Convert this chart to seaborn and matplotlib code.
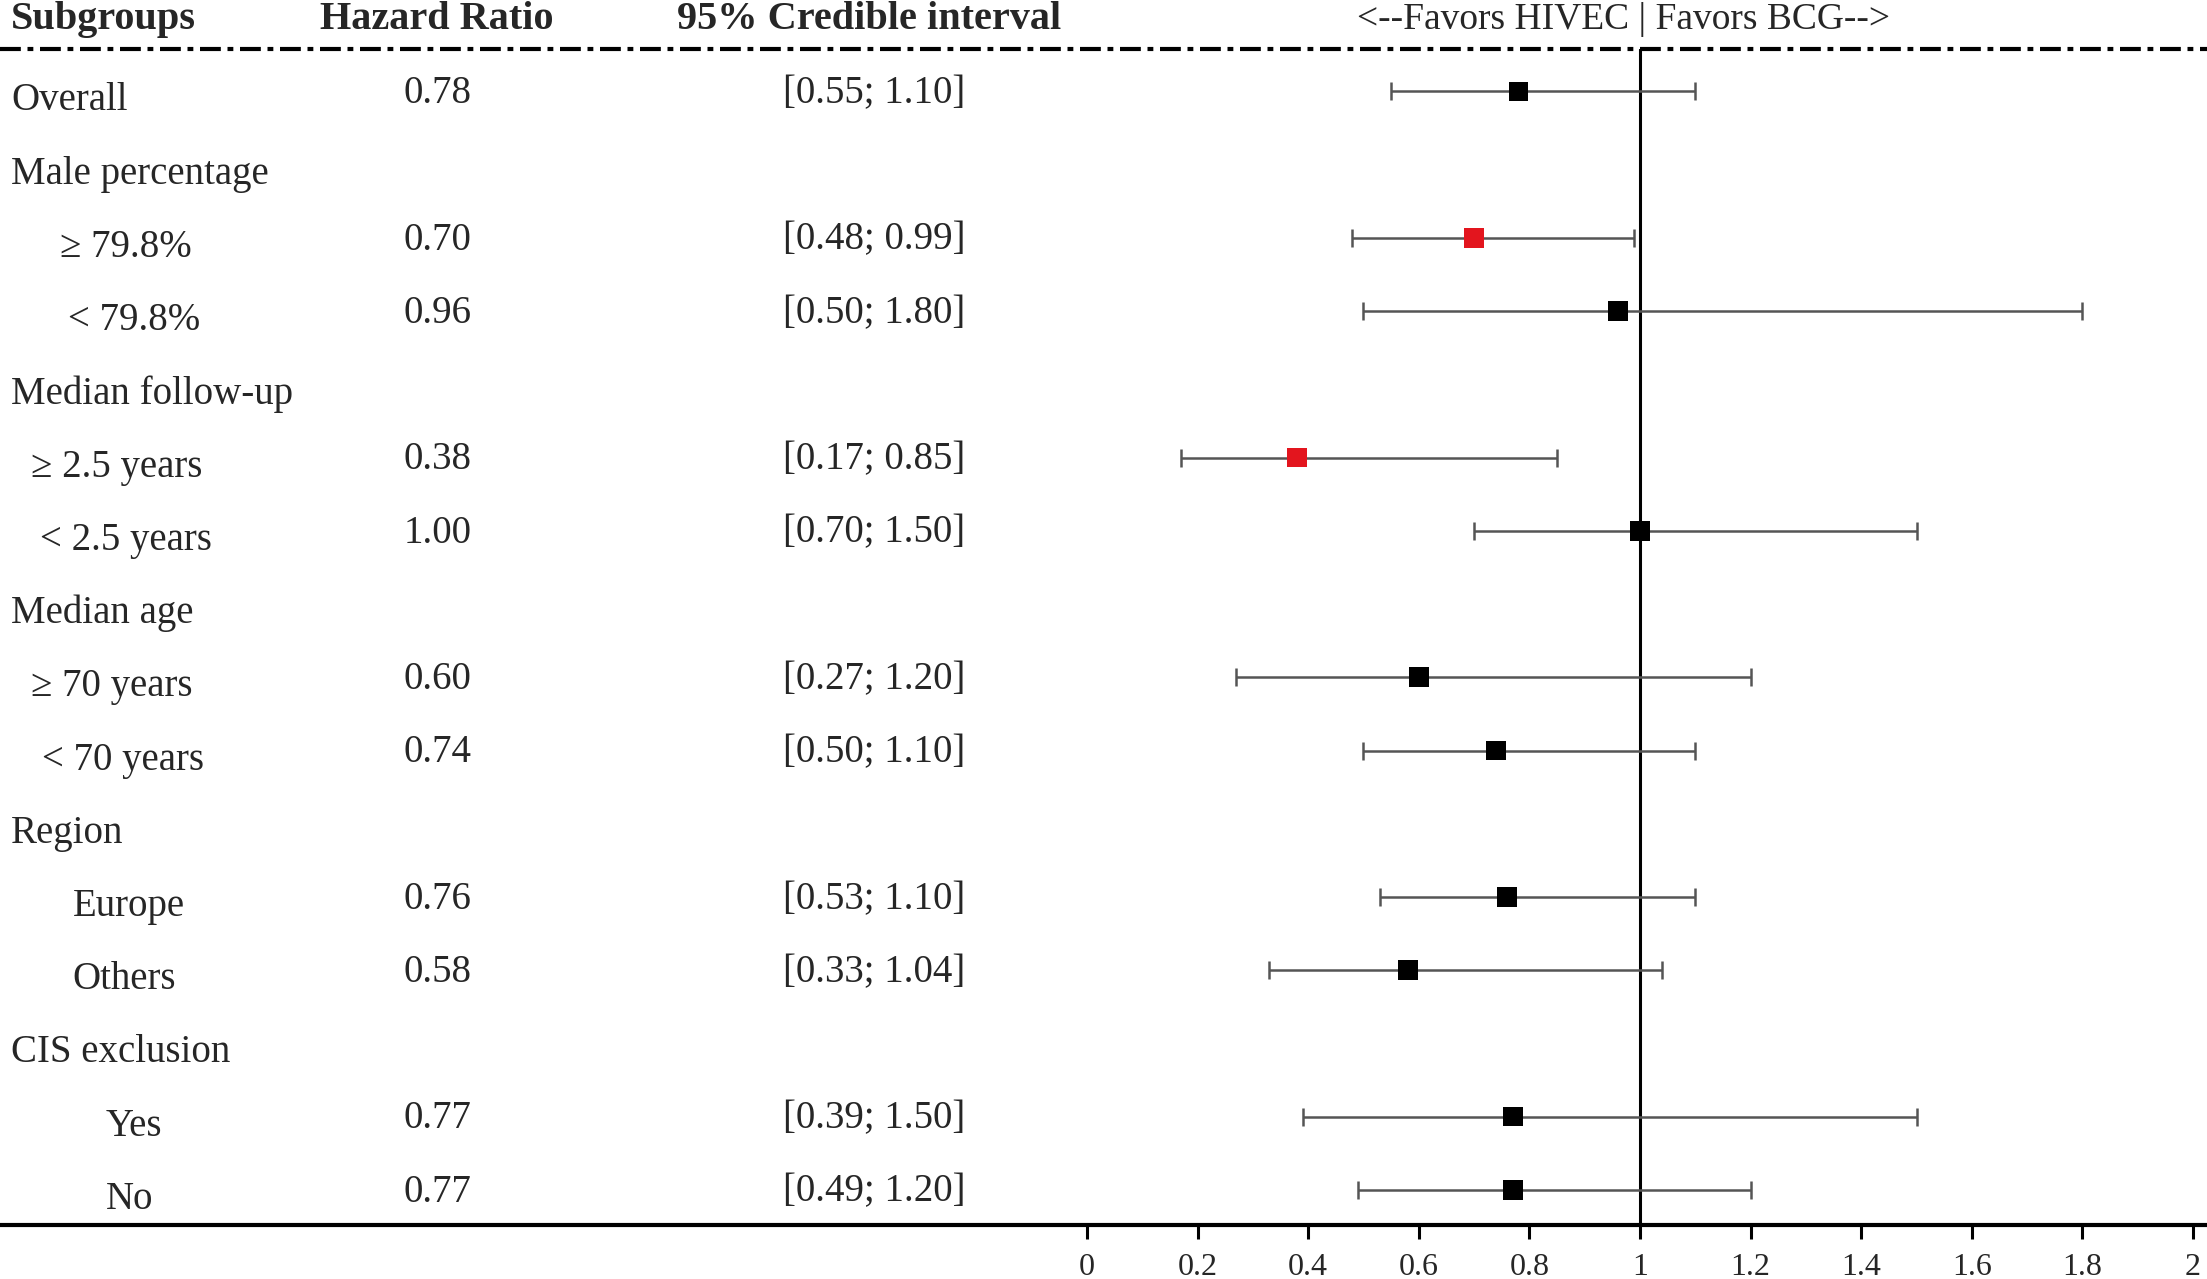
import numpy as np
import pandas as pd
import matplotlib
matplotlib.use("Agg")
import matplotlib.pyplot as plt
import matplotlib.transforms as mtransforms
from matplotlib.lines import Line2D
import seaborn as sns

sns.set_theme(style="white")
plt.rcParams['font.family'] = ['Liberation Serif', 'DejaVu Serif']

# rows of the forest plot (None = group heading)
labels = ["Overall", "Male percentage", "\u2265 79.8%", "< 79.8%",
          "Median follow-up", "\u2265 2.5 years", "< 2.5 years",
          "Median age", "\u2265 70 years", "< 70 years",
          "Region", "Europe", "Others",
          "CIS exclusion", "Yes", "No"]
hr = [0.78, None, 0.70, 0.96, None, 0.38, 1.00, None, 0.60, 0.74,
      None, 0.76, 0.58, None, 0.77, 0.77]
lo = [0.55, None, 0.48, 0.50, None, 0.17, 0.70, None, 0.27, 0.50,
      None, 0.53, 0.33, None, 0.39, 0.49]
hi = [1.10, None, 0.99, 1.80, None, 0.85, 1.50, None, 1.20, 1.10,
      None, 1.10, 1.04, None, 1.50, 1.20]
xticks = [0, 0.2, 0.4, 0.6, 0.8, 1, 1.2, 1.4, 1.6, 1.8, 2]
xticklabels = ["0", "0.2", "0.4", "0.6", "0.8", "1", "1.2", "1.4", "1.6", "1.8", "2"]

# layout: left edge of each label (figure fraction)
label_x = [0.005, 0.005, 0.027, 0.031, 0.005, 0.014, 0.018, 0.005, 0.014, 0.019,
           0.005, 0.033, 0.033, 0.005, 0.048, 0.048]

df = pd.DataFrame({"label": labels, "hr": hr, "lo": lo, "hi": hi})
df["row"] = np.arange(len(df))
est = df.dropna().copy()
est["sig"] = np.where(est["hi"] < 1, "yes", "no")

fig = plt.figure(figsize=(22.07, 12.79), dpi=100)
ax = fig.add_axes([0.4925, 0.0422, 0.5012, 0.9195])

ax.errorbar(est["hr"], est["row"],
            xerr=[est["hr"] - est["lo"], est["hi"] - est["hr"]],
            fmt="none", ecolor="#555555", elinewidth=1.8, capsize=6.5,
            capthick=1.8, zorder=2)
sns.scatterplot(data=est, x="hr", y="row", hue="sig", marker="s", s=200,
                palette={"yes": "#e3151e", "no": "black"}, edgecolor="none",
                legend=False, ax=ax, zorder=3)
ax.axvline(1, color="black", lw=2.2, zorder=1)

ax.set_xlim(0, 2)
ax.set_ylim(15.48, -0.58)
ax.set_xticks(xticks)
ax.set_xticklabels(xticklabels, fontsize=23)
ax.set_yticks([])
ax.set_xlabel("")
ax.set_ylabel("")
for s in ["top", "right", "left", "bottom"]:
    ax.spines[s].set_visible(False)
ax.tick_params(axis="x", direction="out", length=10, width=2.2, color="black",
               pad=10, bottom=True)

# full-width lines: dash-dot header rule and bottom axis line
fig.add_artist(Line2D([0, 1], [0.9617, 0.9617], color="black", lw=3,
                      linestyle=(0, (5, 1.6, 1.4, 1.6)), transform=fig.transFigure))
fig.add_artist(Line2D([0, 1], [0.0422, 0.0422], color="black", lw=3,
                      transform=fig.transFigure))

# table text
trans = mtransforms.blended_transform_factory(fig.transFigure, ax.transData)
fs = 28
for i, row in df.iterrows():
    ax.text(label_x[i], row["row"] + 0.13, row["label"], transform=trans,
            ha="left", va="center", fontsize=fs)
    if pd.notna(row["hr"]):
        ax.text(0.1983, row["row"] + 0.03, f"{row['hr']:.2f}", transform=trans,
                ha="center", va="center", fontsize=fs)
        ax.text(0.396, row["row"] + 0.03, f"[{row['lo']:.2f}; {row['hi']:.2f}]",
                transform=trans, ha="center", va="center", fontsize=fs)

hy = 0.985
fig.text(0.005, hy, "Subgroups", ha="left", va="center", fontsize=29, fontweight="bold")
fig.text(0.1977, hy, "Hazard Ratio", ha="center", va="center", fontsize=29, fontweight="bold")
fig.text(0.394, hy, "95% Credible interval", ha="center", va="center", fontsize=29,
         fontweight="bold")
ax.text(0.97, hy, "<--Favors HIVEC | Favors BCG-->",
        transform=mtransforms.blended_transform_factory(ax.transData, fig.transFigure),
        ha="center", va="center", fontsize=27)

fig.savefig("out.png", dpi=100)
